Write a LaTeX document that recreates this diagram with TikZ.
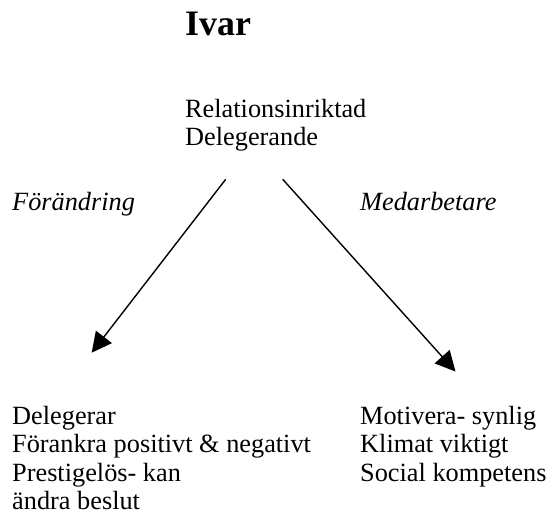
\documentclass[tikz,border=0pt]{standalone}
\usepackage{fontspec}
\setmainfont{Liberation Serif}
\usetikzlibrary{arrows.meta}
\begin{document}
\begin{tikzpicture}[x=1bp,y=-1bp,
  txt/.style={anchor=base west,inner sep=0pt,
    font=\fontsize{26.4}{29}\selectfont},
  lbl/.style={txt,font=\fontsize{26.4}{29}\selectfont\itshape},
  ttl/.style={anchor=base west,inner sep=0pt,
    font=\fontsize{36}{40}\selectfont\bfseries},
  link/.style={line width=1.4bp,
    -{Triangle[length=20bp,width=20bp]}}]
\useasboundingbox (0,0) rectangle (549,521);

% title and centre description
\node[ttl] (title) at (185,36) {Ivar};
\node[txt] (centre1) at (185,118) {Relationsinriktad};
\node[txt] (centre2) at (185,146) {Delegerande};

% branch labels
\node[lbl] (lchange) at (12,211) {Förändring};
\node[lbl] (lstaff) at (360,211) {Medarbetare};

% list at the end of the left branch
\node[txt] (left1) at (12,424.5) {Delegerar};
\node[txt] (left2) at (12,452.5) {Förankra positivt \& negativt};
\node[txt] (left3) at (12,481) {Prestigelös- kan};
\node[txt] (left4) at (12,509) {ändra beslut};

% list at the end of the right branch
\node[txt] (right1) at (360,424.5) {Motivera- synlig};
\node[txt] (right2) at (360,452.5) {Klimat viktigt};
\node[txt] (right3) at (360,481) {Social kompetens};

% branch arrows
\coordinate (ls) at (225.7,179.3);
\coordinate (le) at (91.7,352.7);
\coordinate (rs) at (282.7,179.3);
\coordinate (re) at (455.5,371.5);
\draw[link] (ls) -- (le);
\draw[link] (rs) -- (re);
\end{tikzpicture}
\end{document}
